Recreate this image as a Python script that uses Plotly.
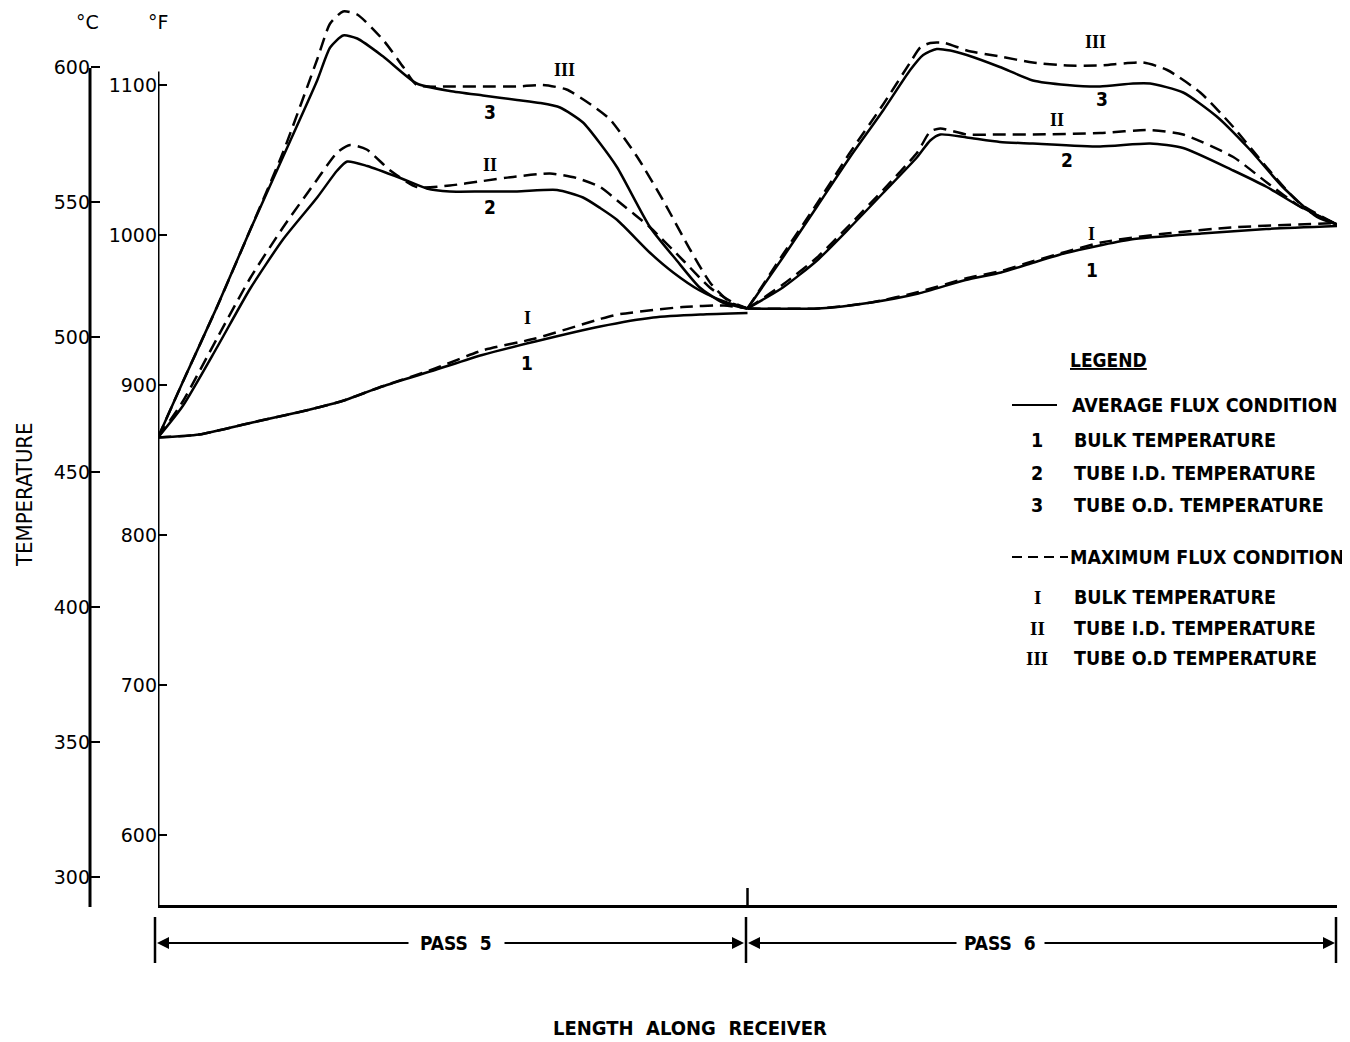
import plotly.graph_objects as go

# ---------------- data (x: length along receiver, 0-1 pass 5, 1-2 pass 6; y: deg F) -------------
bulk_avg_x = [0, 0.07, 0.16, 0.24, 0.31, 0.38, 0.47, 0.55, 0.64, 0.75, 0.84, 0.92, 1.0, None,
              1.0, 1.12, 1.21, 1.29, 1.37, 1.43, 1.48, 1.54, 1.65, 1.77, 1.88, 2.0]
bulk_avg_F = [865, 867, 875, 882, 889, 899, 910, 920, 929, 939, 945, 947, 948, None,
              951, 951, 955, 961, 970, 975, 981, 988, 997, 1001, 1004, 1006]

bulk_max_x = [0, 0.07, 0.16, 0.24, 0.31, 0.38, 0.47, 0.55, 0.64, 0.75, 0.78, 0.89, 0.96, 1.0, None,
              1.0, 1.12, 1.21, 1.29, 1.37, 1.43, 1.48, 1.6, 1.71, 1.82, 2.0]
bulk_max_F = [865, 867, 875, 882, 889, 899, 911, 923, 931, 944, 947, 952, 953, 951, None,
              951, 951, 955, 962, 971, 976, 982, 995, 1001, 1005, 1008]

id_avg_x = [0, 0.042, 0.1, 0.156, 0.212, 0.27, 0.304, 0.321, 0.355, 0.411, 0.456, 0.495, 0.551,
            0.609, 0.677, 0.721, 0.75, 0.779, 0.835, 0.874, 0.919, 0.965, 1.0, None,
            1.0, 1.06, 1.118, 1.174, 1.23, 1.288, 1.31, 1.327, 1.372, 1.428, 1.484, 1.598,
            1.683, 1.739, 1.824, 1.881, 1.937, 2.0]
id_avg_F = [865, 886, 925, 964, 997, 1025, 1043, 1049, 1046, 1038, 1031, 1029, 1029,
            1029, 1030, 1025, 1018, 1010, 988, 975, 963, 955, 951, None,
            951, 965, 983, 1005, 1028, 1052, 1063, 1067, 1065, 1062, 1061, 1059,
            1061, 1058, 1043, 1032, 1019, 1007]

id_max_x = [0, 0.042, 0.1, 0.156, 0.212, 0.27, 0.304, 0.326, 0.354, 0.394, 0.439, 0.495, 0.551,
            0.608, 0.665, 0.71, 0.75, 0.779, 0.835, 0.891, 0.936, 0.975, 1.0, None,
            1.0, 1.06, 1.118, 1.174, 1.23, 1.288, 1.31, 1.327, 1.372, 1.428, 1.484, 1.598,
            1.683, 1.739, 1.824, 1.881, 1.937, 2.0]
id_max_F = [865, 889, 931, 971, 1005, 1037, 1055, 1060, 1057, 1043, 1032, 1033, 1036,
            1039, 1041, 1038, 1032, 1023, 1005, 983, 965, 955, 951, None,
            951, 967, 985, 1007, 1030, 1055, 1069, 1071, 1067, 1067, 1067, 1068,
            1070, 1067, 1052, 1035, 1019, 1007]

od_avg_x = [0, 0.042, 0.1, 0.156, 0.212, 0.27, 0.292, 0.314, 0.338, 0.382, 0.439, 0.495, 0.551,
            0.609, 0.648, 0.682, 0.721, 0.75, 0.779, 0.835, 0.88, 0.919, 0.958, 1.0, None,
            1.0, 1.06, 1.118, 1.174, 1.23, 1.276, 1.298, 1.321, 1.344, 1.372, 1.428, 1.484,
            1.542, 1.598, 1.654, 1.683, 1.739, 1.796, 1.852, 1.908, 1.966, 2.0]
od_avg_F = [865, 902, 952, 1003, 1052, 1103, 1125, 1133, 1131, 1119, 1101, 1096, 1093,
            1090, 1088, 1085, 1075, 1061, 1045, 1005, 983, 965, 955, 951, None,
            951, 985, 1019, 1052, 1083, 1110, 1120, 1124, 1123, 1120, 1112, 1103,
            1100, 1099, 1101, 1101, 1095, 1079, 1057, 1032, 1012, 1007]

od_max_x = [0, 0.042, 0.1, 0.156, 0.212, 0.27, 0.292, 0.314, 0.338, 0.382, 0.416, 0.439, 0.495,
            0.551, 0.609, 0.653, 0.693, 0.738, 0.767, 0.813, 0.857, 0.903, 0.937, 0.971, 1.0, None,
            1.0, 1.06, 1.118, 1.174, 1.23, 1.276, 1.293, 1.31, 1.335, 1.372, 1.428, 1.484,
            1.542, 1.598, 1.671, 1.712, 1.768, 1.824, 1.881, 1.937, 2.0]
od_max_F = [865, 902, 952, 1003, 1055, 1117, 1141, 1149, 1147, 1130, 1112, 1100, 1099,
            1099, 1099, 1100, 1097, 1086, 1077, 1052, 1023, 990, 968, 955, 951, None,
            951, 987, 1021, 1055, 1087, 1115, 1125, 1128, 1128, 1123, 1119, 1115,
            1113, 1113, 1115, 1110, 1095, 1072, 1045, 1021, 1007]

f_ticks = [600, 700, 800, 900, 1000, 1100]
c_ticks = [300, 350, 400, 450, 500, 550, 600]

curve_labels = [  # (text, x, degF, roman?)
    ("III", 0.690, 1110, True), ("3", 0.563, 1082, False), ("II", 0.563, 1047, True),
    ("2", 0.563, 1019, False), ("I", 0.626, 945, True), ("1", 0.626, 915, False),
    ("III", 1.591, 1129, True), ("3", 1.601, 1091, False), ("II", 1.525, 1077, True),
    ("2", 1.542, 1050, False), ("I", 1.584, 1001, True), ("1", 1.584, 977, False),
]

legend_avg_title = "AVERAGE FLUX CONDITION"
legend_avg_items = [("1", "BULK TEMPERATURE"), ("2", "TUBE I.D. TEMPERATURE"), ("3", "TUBE O.D. TEMPERATURE")]
legend_max_title = "MAXIMUM FLUX CONDITION"
legend_max_items = [("I", "BULK TEMPERATURE"), ("II", "TUBE I.D. TEMPERATURE"), ("III", "TUBE O.D TEMPERATURE")]

# ---------------- layout geometry (page has an 8px body margin) ----------------
OFF = 8
W, H = 1350 - OFF, 1042 - OFF
ML, MR, MT = 60 - OFF, 13, 0
PLOT_BOTTOM_REF = 905                     # x axis position in the reference picture
MB = H - (PLOT_BOTTOM_REF - OFF)
PW, PH = W - ML - MR, H - MT - MB
X0_REF = 158                              # left end of x axis in the reference picture
F_PER_PX = 1 / 1.5
F_TOP = 1100 + (85 - OFF) * F_PER_PX
F_BOT = 1100 - (PLOT_BOTTOM_REF - 85) * F_PER_PX
C_TOP, C_BOT = (F_TOP - 32) / 1.8, (F_BOT - 32) / 1.8


def px(p):
    """reference-picture x pixel -> paper x"""
    return (p - OFF - ML) / PW


def py(p):
    """reference-picture y pixel -> paper y"""
    return (PLOT_BOTTOM_REF - p) / PH


LABEL_FONT = "Liberation Sans Narrow, DejaVu Sans Condensed, Roboto Condensed, Arial Narrow, Liberation Sans, sans-serif"
TICK_FONT = "DejaVu Sans, Liberation Sans, sans-serif"
ROMAN_FONT = "Liberation Serif, DejaVu Serif, serif"
LW = 2.5
DASH = "13px,7px"
BLACK = "black"

fig = go.Figure()


def add_curve(x, y, dashed):
    fig.add_trace(go.Scatter(
        x=x, y=y, mode="lines", showlegend=False, hoverinfo="skip",
        line=dict(color=BLACK, width=LW, shape="spline", smoothing=0.6,
                  dash=DASH if dashed else "solid")))


add_curve(bulk_avg_x, bulk_avg_F, False)
add_curve(bulk_max_x, bulk_max_F, True)
add_curve(id_avg_x, id_avg_F, False)
add_curve(id_max_x, id_max_F, True)
add_curve(od_avg_x, od_avg_F, False)
add_curve(od_max_x, od_max_F, True)

# dummy trace for the Celsius axis
fig.add_trace(go.Scatter(x=[None], y=[None], yaxis="y2", showlegend=False, hoverinfo="skip"))

fig.update_layout(
    width=W, height=H, margin=dict(l=ML, r=MR, t=MT, b=MB, pad=0),
    paper_bgcolor="white", plot_bgcolor="white", showlegend=False,
    xaxis=dict(domain=[px(X0_REF), 1], range=[0, 2], showgrid=False, zeroline=False,
               showticklabels=False, ticks="", showline=True, linecolor=BLACK,
               linewidth=3, fixedrange=True),
    yaxis=dict(range=[F_BOT, F_TOP], tickvals=f_ticks, ticktext=[str(v) for v in f_ticks],
               ticks="inside", ticklen=9, tickwidth=2, tickcolor=BLACK,
               showgrid=False, zeroline=False, showline=False,
               tickfont=dict(family=TICK_FONT, size=19, color=BLACK), automargin=False),
    yaxis2=dict(range=[C_BOT, C_TOP], overlaying="y", anchor="free", position=px(90), side="left",
                tickvals=c_ticks, ticktext=[str(v) for v in c_ticks],
                ticks="inside", ticklen=9, tickwidth=2, tickcolor=BLACK,
                showgrid=False, zeroline=False, showline=False,
                tickfont=dict(family=TICK_FONT, size=19, color=BLACK), automargin=False),
)

shapes = []
# F axis line and C axis line
shapes.append(dict(type="line", xref="x", yref="y", x0=0, x1=0, y0=F_BOT, y1=1109,
                   line=dict(color=BLACK, width=3)))
shapes.append(dict(type="line", xref="paper", yref="paper", x0=px(90), x1=px(90),
                   y0=py(907), y1=py(68), line=dict(color=BLACK, width=3)))
# tick at pass boundary on x axis
shapes.append(dict(type="line", xref="x", yref="paper", x0=1, x1=1, y0=0, y1=py(888),
                   line=dict(color=BLACK, width=2.5)))
# pass bars
for xb in [155, 746, 1336]:
    shapes.append(dict(type="line", xref="paper", yref="paper", x0=px(xb), x1=px(xb),
                       y0=py(917), y1=py(963), line=dict(color=BLACK, width=2.5)))
# legend sample lines
shapes.append(dict(type="line", xref="paper", yref="paper", x0=px(1012), x1=px(1057),
                   y0=py(405), y1=py(405), line=dict(color=BLACK, width=2)))
shapes.append(dict(type="line", xref="paper", yref="paper", x0=px(1012), x1=px(1068),
                   y0=py(557), y1=py(557), line=dict(color=BLACK, width=2, dash="10px,6px")))
fig.update_layout(shapes=shapes)

ann = []


def text_at(x, y, text, family, size, xanchor="center", angle=0):
    ann.append(dict(x=px(x), y=py(y), xref="paper", yref="paper", text=text,
                    xanchor=xanchor, yanchor="middle", textangle=angle, showarrow=False,
                    font=dict(family=family, size=size, color=BLACK)))


# curve labels (placed in data coordinates)
for t, x, f, roman in curve_labels:
    ann.append(dict(x=x, y=f, xref="x", yref="y", text="<b>%s</b>" % t, showarrow=False,
                    xanchor="center", yanchor="middle",
                    font=dict(family=ROMAN_FONT if roman else LABEL_FONT,
                              size=18 if roman else 19, color=BLACK)))
# unit headers
text_at(87, 22, "°C", TICK_FONT, 19)
text_at(158, 22, "°F", TICK_FONT, 19)
# axis titles
text_at(25, 495, "TEMPERATURE", LABEL_FONT, 22, angle=-90)
text_at(690, 1028, "<b>LENGTH  ALONG  RECEIVER</b>", LABEL_FONT, 20)
# pass labels and arrows
Y_ARR = 943
text_at(456, Y_ARR, "<b>PASS  5</b>", LABEL_FONT, 19)
text_at(1000, Y_ARR, "<b>PASS  6</b>", LABEL_FONT, 19)
for head, tail in [(157, 410), (744, 503), (748, 958), (1335, 1043)]:
    ann.append(dict(x=px(head), y=py(Y_ARR), xref="paper", yref="paper", text="", showarrow=True,
                    ax=tail - head, ay=0, arrowhead=2, arrowsize=1.2, arrowwidth=2,
                    arrowcolor=BLACK, standoff=0, startstandoff=0))
# legend
text_at(1108, 360, "<b><u>LEGEND</u></b>", LABEL_FONT, 19)
text_at(1070, 405, "<b>%s</b>" % legend_avg_title, LABEL_FONT, 19.5, xanchor="left")
for (num, txt), yy in zip(legend_avg_items, [440, 473, 505]):
    text_at(1037, yy, "<b>%s</b>" % num, LABEL_FONT, 19.5)
    text_at(1072, yy, "<b>%s</b>" % txt, LABEL_FONT, 19.5, xanchor="left")
text_at(1068, 557, "<b>%s</b>" % legend_max_title, LABEL_FONT, 19.5, xanchor="left")
for (num, txt), yy in zip(legend_max_items, [597, 628, 658]):
    text_at(1037, yy, "<b>%s</b>" % num, ROMAN_FONT, 19)
    text_at(1072, yy, "<b>%s</b>" % txt, LABEL_FONT, 19.5, xanchor="left")
fig.update_layout(annotations=ann)

fig.write_html("out.html")
